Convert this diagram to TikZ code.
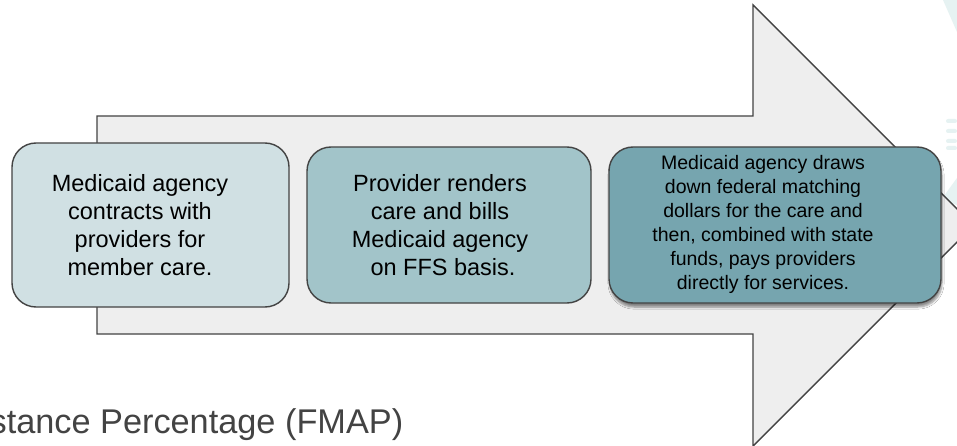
\documentclass[tikz,border=0pt]{standalone}
\usepackage{fontspec}
\setmainfont{Liberation Sans}
\usetikzlibrary{shadows.blur}
\definecolor{outline}{HTML}{434343}
\definecolor{arrowfill}{HTML}{EEEEEE}
\definecolor{boxA}{HTML}{D0E0E3}
\definecolor{boxB}{HTML}{A2C4C9}
\definecolor{boxC}{HTML}{76A5AF}
\definecolor{logo}{HTML}{E6F2F2}
\begin{document}
\begin{tikzpicture}[x=1pt,y=-1pt,
  stepbox/.style={draw=outline, line width=1.4pt, rounded corners=24pt, inner sep=0pt},
  bigtxt/.style={align=center, font=\fontsize{23.5}{28}\selectfont, text=black, inner sep=0pt},
  smalltxt/.style={align=center, font=\fontsize{19.5}{24}\selectfont, text=black, inner sep=0pt}]
\useasboundingbox (0,0) rectangle (957,446);
\clip (0,0) rectangle (957,446);
\fill[white] (0,0) rectangle (957,446);
% faint logo fragments
\fill[logo] (943,0) -- (957,0) -- (957,32) -- cycle;
\foreach \yy in {121,131,141,148}{\fill[logo, rounded corners=2pt] (946,\yy-2) rectangle (957,\yy+2);}
\fill[logo] (941,200) -- (957,178) -- (957,205) -- cycle;
% big arrow
\draw[draw=outline, fill=arrowfill, line width=1.4pt, line join=miter]
  (97,116) -- (753,116) -- (753,5) -- (973.5,225.5) -- (753,446) -- (753,334) -- (97,334) -- cycle;
% boxes
\node[stepbox, fill=boxA, minimum width=277pt, minimum height=164pt] (b1) at (150.5,225) {};
\node[stepbox, fill=boxB, minimum width=284pt, minimum height=156pt] (b2) at (449,225) {};
\node[stepbox, fill=boxC, minimum width=332pt, minimum height=156pt,
  blur shadow={shadow xshift=1pt, shadow yshift=-4pt, shadow blur steps=6, shadow blur extra rounding=2pt, shadow opacity=45}] (b3) at (775,225) {};
% texts
\node[bigtxt] (t1) at (140,225) {Medicaid agency\\contracts with\\providers for\\member care.};
\node[bigtxt] (t2) at (440,225) {Provider renders\\care and bills\\Medicaid agency\\\hspace*{6pt}on FFS basis.};
\node[smalltxt] (t3) at (763,224) {Medicaid agency draws\\down federal matching\\dollars for the care and\\then, combined with state\\funds, pays providers\\directly for services.};
% bottom text
\node[anchor=base west, inner sep=0pt, font=\fontsize{34.3}{41}\selectfont, text=outline] (fmap) at (-10.6,433) {stance Percentage (FMAP)};
\end{tikzpicture}
\end{document}
